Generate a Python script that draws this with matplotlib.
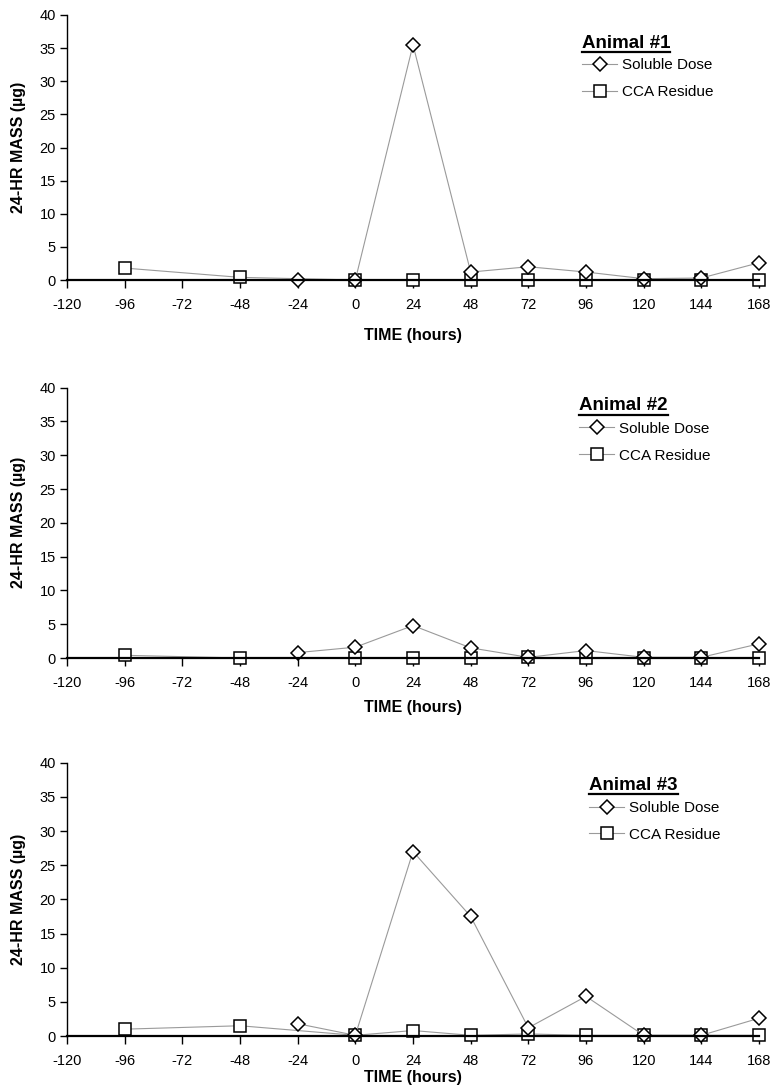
import matplotlib
matplotlib.use("Agg")
import matplotlib.pyplot as plt
from matplotlib.lines import Line2D

plt.rcParams['font.family'] = ['Liberation Sans', 'DejaVu Sans']
plt.rcParams['axes.unicode_minus'] = False

# time points (hours)
sol_time = [-24, 0, 24, 48, 72, 96, 120, 144, 168]
cca_time = [-96, -48, 0, 24, 48, 72, 96, 120, 144, 168]

# animal #1
sol_1 = [0.0, 0.0, 35.5, 1.2, 2.0, 1.2, 0.2, 0.3, 2.6]
cca_1 = [1.8, 0.4, 0.0, 0.0, 0.0, 0.0, 0.0, 0.0, 0.0, 0.0]
# animal #2
sol_2 = [0.8, 1.6, 4.8, 1.5, 0.1, 1.1, 0.1, 0.1, 2.1]
cca_2 = [0.4, 0.0, 0.0, 0.0, 0.0, 0.1, 0.0, 0.0, 0.0, 0.0]
# animal #3
sol_3 = [1.8, 0.1, 27.0, 17.5, 1.2, 5.8, 0.1, 0.1, 2.6]
cca_3 = [1.0, 1.5, 0.1, 0.8, 0.1, 0.3, 0.1, 0.1, 0.1, 0.1]

titles = ['Animal #1', 'Animal #2', 'Animal #3']
sol_all = [sol_1, sol_2, sol_3]
cca_all = [cca_1, cca_2, cca_3]

xticks = list(range(-120, 169, 24))
yticks = list(range(0, 41, 5))

W, H = 774, 1089
fig = plt.figure(figsize=(W / 100, H / 100), dpi=100)

# axes placement in pixels: (top, bottom)
panels = [(15, 280), (387.7, 658), (762.7, 1036)]
left_px, right_px = 67, 759
xlab_top = [328, 700, 1070]
leg_x = [582, 579, 589]
leg_title_y = [43, 406, 785]

line_kw = dict(color='#9a9a9a', lw=0.8, mfc='white', mec='black', mew=1.1, clip_on=False)

for i in range(3):
    top, bot = panels[i]
    hpx = bot - top
    ax = fig.add_axes([left_px / W, 1 - bot / H, (right_px - left_px) / W, hpx / H])

    ax.plot(cca_time, cca_all[i], marker='s', ms=9, label='CCA Residue', zorder=2, **line_kw)
    ax.plot(sol_time, sol_all[i], marker='D', ms=7, label='Soluble Dose', zorder=2.2, **line_kw)

    ax.set_xlim(-120, 168)
    ax.set_ylim(0, 40)
    ax.set_xticks(xticks)
    ax.set_yticks(yticks)
    ax.spines['top'].set_visible(False)
    ax.spines['right'].set_visible(False)
    ax.spines['bottom'].set_linewidth(1.6)
    ax.spines['left'].set_linewidth(1.0)
    ax.spines['bottom'].set_zorder(3)
    ax.tick_params(axis='x', direction='out', length=6, width=1, labelsize=10.5, pad=7)
    ax.tick_params(axis='y', direction='out', length=5, width=1, labelsize=10.5, pad=3)

    ax.set_xlabel('TIME (hours)', fontsize=11.5, fontweight='bold')
    ax.xaxis.set_label_coords(0.5, -(xlab_top[i] - bot) / hpx)
    ax.set_ylabel('24-HR MASS (\u00b5g)', fontsize=11.5, fontweight='bold')
    ax.yaxis.set_label_coords(-(left_px - 26) / (right_px - left_px), 0.5)

    # legend title with underline
    tx = (leg_x[i] - left_px) / (right_px - left_px)
    ty = (bot - leg_title_y[i]) / hpx
    t = ax.text(tx, ty, titles[i], transform=ax.transAxes, fontsize=13.5,
                fontweight='bold', ha='left', va='center')
    fig.canvas.draw()
    bb = t.get_window_extent().transformed(ax.transAxes.inverted())
    ax.add_line(Line2D([bb.x0, bb.x1], [bb.y0 - 0.002, bb.y0 - 0.002],
                       transform=ax.transAxes, color='black', lw=1.6, clip_on=False))

    handles, labels = ax.get_legend_handles_labels()
    ax.legend(handles[::-1], labels[::-1], loc='upper left',
              bbox_to_anchor=(tx, ty - 0.058), frameon=False, fontsize=11,
              handlelength=2.3, handletextpad=0.3, labelspacing=0.85,
              borderpad=0, borderaxespad=0)

fig.savefig('out.png', dpi=100)
